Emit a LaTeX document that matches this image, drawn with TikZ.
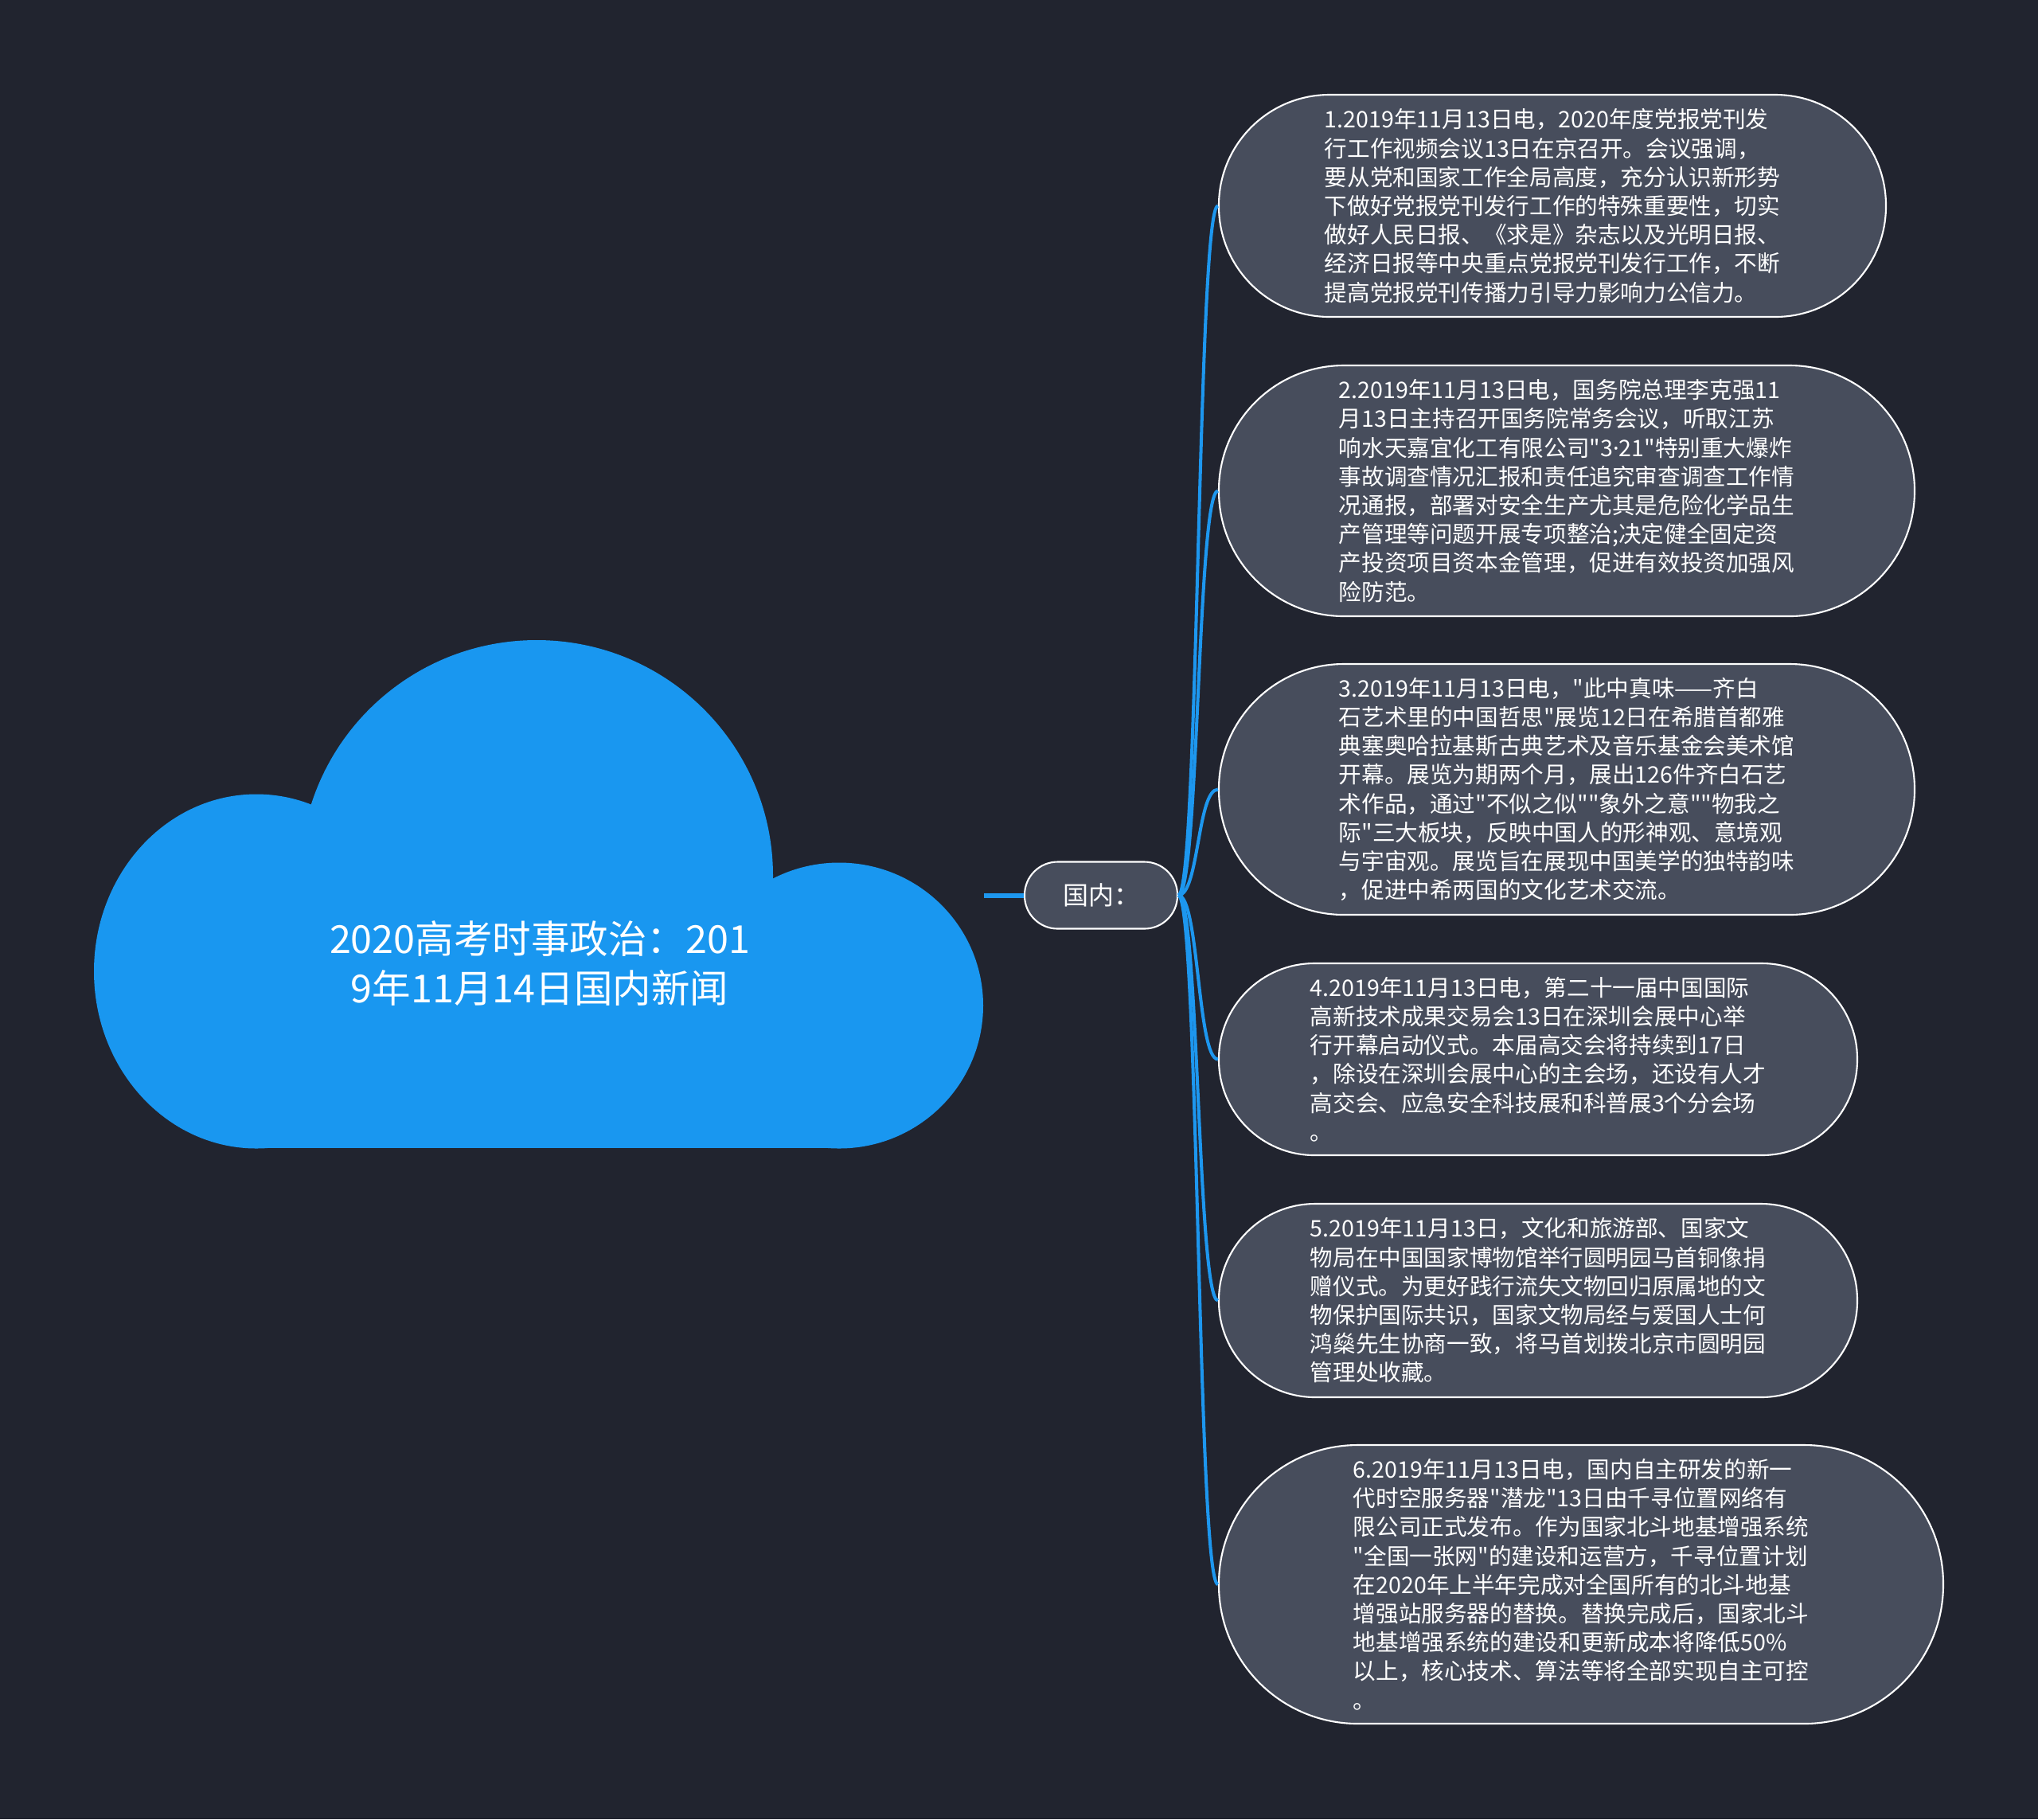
\documentclass[tikz,border=0pt]{standalone}
\usepackage{fontspec}
\setmainfont{Noto Sans CJK SC}[Ligatures=TeXOff]
\newfontfamily\latinf{Noto Sans}
\newcommand{\mdot}{{\latinf ·}}
\definecolor{bgc}{HTML}{21242F}
\definecolor{boxc}{HTML}{474D5C}
\definecolor{cloudc}{HTML}{1997F0}
\definecolor{linec}{HTML}{1D97EF}
\tikzset{
  topic/.style={draw=white, line width=0.6pt, fill=boxc, text=white, align=left, inner sep=0pt,
    font=\fontsize{8.14pt}{10.3pt}\selectfont},
  mid/.style={draw=white, line width=0.6pt, fill=boxc, text=white, inner sep=0pt,
    minimum width=1.92cm, minimum height=0.84cm, rounded corners=0.415cm,
    font=\fontsize{9.1pt}{11pt}\selectfont},
  branch/.style={draw=linec, line width=1.15pt},
  trunk/.style={draw=linec, line width=1.7pt},
  rootlabel/.style={text=white, align=center, font=\fontsize{13.8pt}{17.4pt}\selectfont}
}
\begin{document}
\begin{tikzpicture}
\useasboundingbox (0,0) rectangle (25.6,-22.85);
\fill[bgc] (0,0) rectangle (25.6,-22.85);
% cloud
\fill[cloudc] (3.22,-12.20) ellipse [x radius=2.04, y radius=2.225];
\fill[cloudc] (6.74,-11.00) ellipse [x radius=2.97, y radius=2.96];
\fill[cloudc] (10.54,-12.63) ellipse [x radius=1.81, y radius=1.795];
\fill[cloudc] (3.22,-11.5) rectangle (10.54,-14.42);
\node[rootlabel] (root) at (6.78,-12.10) {2020高考时事政治：201\\9年11月14日国内新闻};
\coordinate (rootE) at (12.36,-11.245);
% middle node
\node[mid] (gn) at (13.83,-11.245) {国内：};
% topics
\node[topic, minimum width=8.38cm, minimum height=2.79cm, rounded corners=1.39cm] (b1) at (19.50,-2.585) {1.2019年11月13日电，2020年度党报党刊发\\
行工作视频会议13日在京召开。会议强调，\\
要从党和国家工作全局高度，充分认识新形势\\
下做好党报党刊发行工作的特殊重要性，切实\\
做好人民日报、《求是》杂志以及光明日报、\\
经济日报等中央重点党报党刊发行工作，不断\\
提高党报党刊传播力引导力影响力公信力。};
\node[topic, minimum width=8.74cm, minimum height=3.15cm, rounded corners=1.57cm] (b2) at (19.68,-6.165) {2.2019年11月13日电，国务院总理李克强11\\
月13日主持召开国务院常务会议，听取江苏\\
响水天嘉宜化工有限公司"3\mdot 21"特别重大爆炸\\
事故调查情况汇报和责任追究审查调查工作情\\
况通报，部署对安全生产尤其是危险化学品生\\
产管理等问题开展专项整治;决定健全固定资\\
产投资项目资本金管理，促进有效投资加强风\\
险防范。};
\node[topic, minimum width=8.74cm, minimum height=3.15cm, rounded corners=1.57cm] (b3) at (19.68,-9.915) {3.2019年11月13日电，"此中真味——齐白\\
石艺术里的中国哲思"展览12日在希腊首都雅\\
典塞奥哈拉基斯古典艺术及音乐基金会美术馆\\
开幕。展览为期两个月，展出126件齐白石艺\\
术作品，通过"不似之似""象外之意""物我之\\
际"三大板块，反映中国人的形神观、意境观\\
与宇宙观。展览旨在展现中国美学的独特韵味\\
，促进中希两国的文化艺术交流。};
\node[topic, minimum width=8.02cm, minimum height=2.41cm, rounded corners=1.20cm] (b4) at (19.32,-13.305) {4.2019年11月13日电，第二十一届中国国际\\
高新技术成果交易会13日在深圳会展中心举\\
行开幕启动仪式。本届高交会将持续到17日\\
，除设在深圳会展中心的主会场，还设有人才\\
高交会、应急安全科技展和科普展3个分会场\\
。};
\node[topic, minimum width=8.02cm, minimum height=2.43cm, rounded corners=1.21cm] (b5) at (19.32,-16.335) {5.2019年11月13日，文化和旅游部、国家文\\
物局在中国国家博物馆举行圆明园马首铜像捐\\
赠仪式。为更好践行流失文物回归原属地的文\\
物保护国际共识，国家文物局经与爱国人士何\\
鸿燊先生协商一致，将马首划拨北京市圆明园\\
管理处收藏。};
\node[topic, minimum width=9.10cm, minimum height=3.50cm, rounded corners=1.745cm] (b6) at (19.86,-19.90) {6.2019年11月13日电，国内自主研发的新一\\
代时空服务器"潜龙"13日由千寻位置网络有\\
限公司正式发布。作为国家北斗地基增强系统\\
"全国一张网"的建设和运营方，千寻位置计划\\
在2020年上半年完成对全国所有的北斗地基\\
增强站服务器的替换。替换完成后，国家北斗\\
地基增强系统的建设和更新成本将降低50\%\\
以上，核心技术、算法等将全部实现自主可控\\
。};
% connectors
\draw[trunk] (rootE) -- (gn.west);
\foreach \b in {b1,b2,b3,b4,b5,b6}{
  \draw[branch] (gn.east) .. controls +(0.26,0) and +(-0.26,0) .. (\b.west);
}
\end{tikzpicture}
\end{document}
